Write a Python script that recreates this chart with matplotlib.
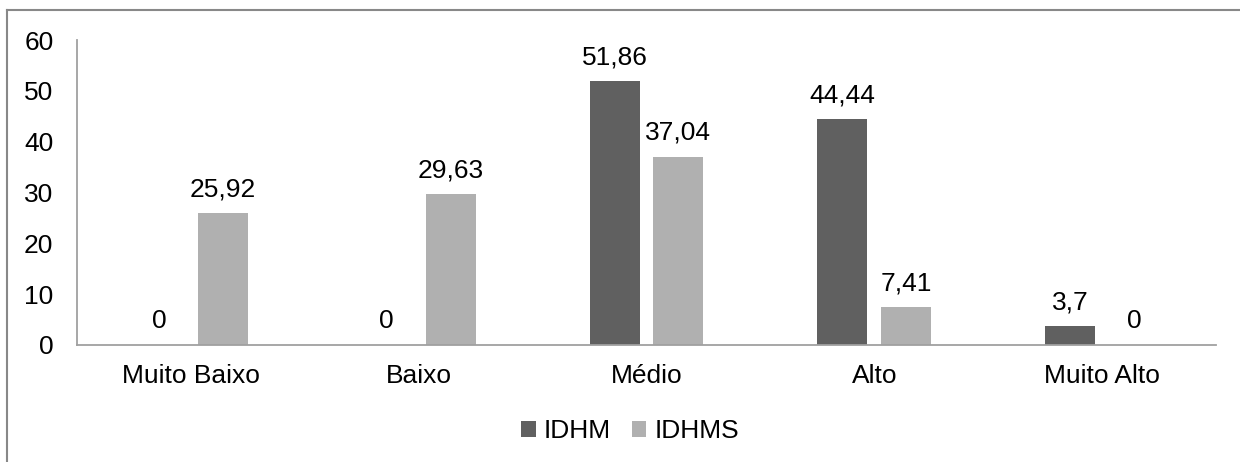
import numpy as np
import matplotlib.pyplot as plt
from matplotlib.lines import Line2D

# dados
categorias = ['Muito Baixo', 'Baixo', 'Médio', 'Alto', 'Muito Alto']
idhm = [0, 0, 51.86, 44.44, 3.7]
idhms = [25.92, 29.63, 37.04, 7.41, 0]
rotulos_idhm = ['0', '0', '51,86', '44,44', '3,7']
rotulos_idhms = ['25,92', '29,63', '37,04', '7,41', '0']

plt.rcParams['font.family'] = ['Liberation Sans', 'DejaVu Sans']
fs = 19

fig = plt.figure(figsize=(12.4, 4.62), dpi=100)
ax = fig.add_axes([77 / 1240, 117 / 462, (1216 - 77) / 1240, (345 - 40) / 462])

x = np.arange(len(categorias))
w = 0.22
off = 0.14
cor1 = '#606060'
cor2 = '#b0b0b0'
b1 = ax.bar(x - off, idhm, w, color=cor1, label='IDHM')
b2 = ax.bar(x + off, idhms, w, color=cor2, label='IDHMS')

for xi, v, t in zip(x - off, idhm, rotulos_idhm):
    ax.annotate(t, (xi, v), xytext=(0, 8.5), textcoords='offset points',
                ha='center', va='bottom', fontsize=fs)
for xi, v, t in zip(x + off, idhms, rotulos_idhms):
    ax.annotate(t, (xi, v), xytext=(0, 8.5), textcoords='offset points',
                ha='center', va='bottom', fontsize=fs)

ax.set_xlim(-0.5, len(categorias) - 0.5)
ax.set_ylim(0, 60)
ax.set_yticks(range(0, 61, 10))
ax.set_xticks(x)
ax.set_xticklabels(categorias)
ax.tick_params(axis='both', length=0, labelsize=fs)
ax.tick_params(axis='x', pad=14)
ax.tick_params(axis='y', pad=17)

for s in ['top', 'right']:
    ax.spines[s].set_visible(False)
for s in ['left', 'bottom']:
    ax.spines[s].set_color('#a0a0a0')
    ax.spines[s].set_linewidth(1.3)

fig.legend(handles=[b1, b2], loc='center', bbox_to_anchor=(630 / 1240, 1 - 431 / 462),
           ncol=2, frameon=False, fontsize=fs, handlelength=0.55, handleheight=0.55,
           handletextpad=0.3, columnspacing=0.8)

# moldura do gráfico
fig.add_artist(Line2D([7 / 1240, 7 / 1240], [0, 1 - 10 / 462], color='#888888', lw=1.5))
fig.add_artist(Line2D([7 / 1240, 1], [1 - 10 / 462, 1 - 10 / 462], color='#888888', lw=1.5))

plt.savefig('out.png', dpi=100)
